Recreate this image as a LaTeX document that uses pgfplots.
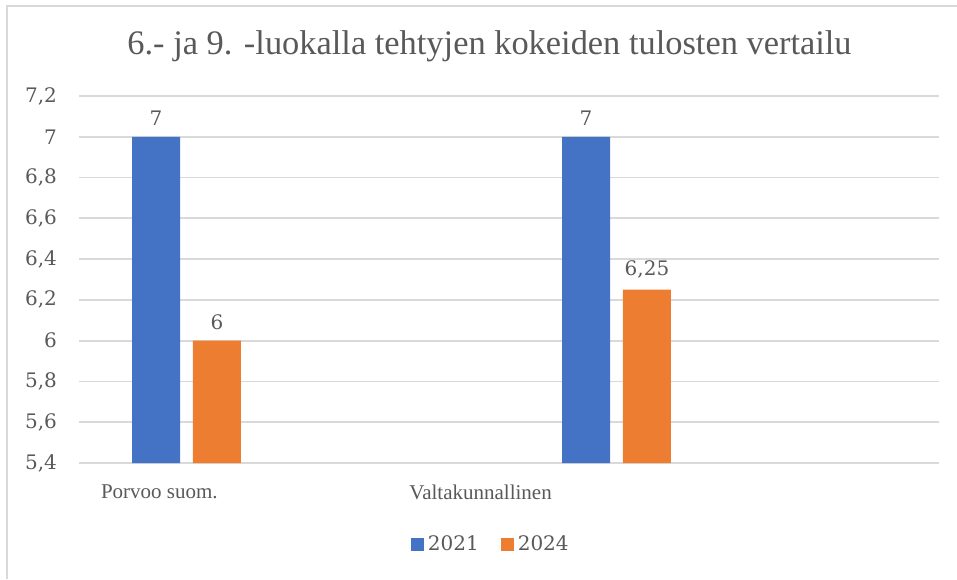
\documentclass[border=0pt]{standalone}
\usepackage{fontspec}
\setmainfont{Liberation Serif}
\newfontfamily\numfont{DejaVu Serif}
\usepackage{pgfplots}
\pgfplotsset{compat=1.18}
\definecolor{bblue}{HTML}{4472C4}
\definecolor{borange}{HTML}{ED7D31}
\definecolor{txt}{HTML}{595959}
\definecolor{gridc}{HTML}{D9D9D9}

\begin{document}
\begin{tikzpicture}
\useasboundingbox (0,0) rectangle (478.5pt,289.5pt);
% frame: only top and left edges are visible
\draw[gridc, line width=0.75pt] (3.5pt,0) -- (3.5pt,286.5pt) -- (478.5pt,286.5pt);
\node[txt, font=\fontsize{17.2}{20}\selectfont] at (244.75pt,266.5pt)
    {6.- ja 9. -luokalla tehtyjen kokeiden tulosten vertailu};
\begin{axis}[
    at={(39.5pt,58pt)}, anchor=south west,
    scale only axis,
    width=430pt, height=183.5pt,
    ybar, bar width=24pt,
    xmin=0, xmax=2,
    ymin=5.4, ymax=7.2,
    ytick={5.4,5.6,5.8,6,6.2,6.4,6.6,6.8,7,7.2},
    xtick={0.187,0.934},
    xticklabels={Porvoo suom., Valtakunnallinen},
    /pgf/number format/.cd, use comma, assume math mode=true, /pgfplots/.cd,
    axis line style={draw=none},
    major tick length=0pt,
    ymajorgrids,
    major grid style={gridc, line width=0.9pt},
    yticklabel style={font=\numfont\fontsize{10}{12}\selectfont, text=txt, xshift=-7.5pt},
    xticklabel style={font=\fontsize{10.5}{12}\selectfont, text=txt, yshift=-7.5pt},
    nodes near coords,
    every node near coord/.append style={font=\numfont\fontsize{10}{12}\selectfont, text=txt, yshift=2pt},
    legend columns=2,
    legend image code/.code={\fill[#1] (0pt,-3.25pt) rectangle (6.5pt,3.25pt);},
    legend style={at={(0.48,-0.223)}, anchor=center, draw=none,
        font=\numfont\fontsize{10}{12}\selectfont, text=txt,
        /tikz/every even column/.append style={column sep=9pt}},
]
\addplot[fill=bblue, draw=none, bar shift=0pt] coordinates {(0.1791,7) (1.1791,7)};
\addplot[fill=borange, draw=none, bar shift=0pt] coordinates {(0.3209,6) (1.3209,6.25)};
\legend{2021,2024}
\end{axis}
\end{tikzpicture}
\end{document}
